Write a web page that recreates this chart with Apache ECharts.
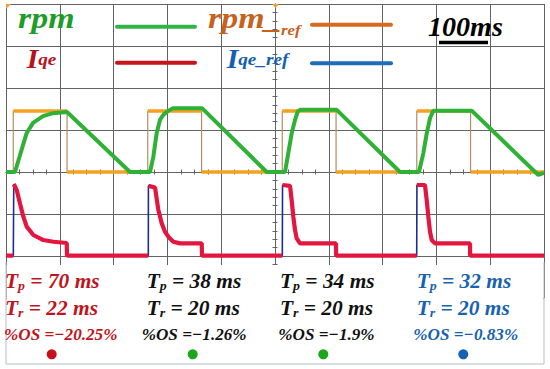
<!DOCTYPE html>
<html><head><meta charset="utf-8">
<script src="https://cdn.jsdelivr.net/npm/echarts@6/dist/echarts.min.js"></script>
<style>html,body{margin:0;padding:0;background:#fff}#c{width:550px;height:369px}</style>
</head><body><div id="c"></div>
<script>
// Time in ms relative to the scope trigger (screen centre), 100 ms per division.
// Values in screen divisions above the centre line.
const refTime  = [-500,-486.5,-486.5,-386.5,-386.5,-236.5,-236.5,-136.5,-136.5,13.5,13.5,113.5,113.5,263.5,263.5,363.5,363.5,500];
const refValue = [0,0,1.45,1.45,0,0,1.45,1.45,0,0,1.45,1.45,0,0,1.45,1.45,0,0];

const rpmTime  = [-500,-483.3,-474,-461.5,-449.8,-431.2,-412.6,-386.6,-269.5,-232.3,-226.2,-219.9,-213.8,-207.6,-198.3,-189,-135.7,-15.4,18.6,24.7,31,37.2,42.2,46.5,114.7,232.3,267.7,275.7,282,288.1,294.2,365.6,489.4,500];
const rpmValue = [0,0,0.40,0.93,1.17,1.33,1.40,1.43,0,0,0.36,0.93,1.24,1.36,1.46,1.52,1.52,0,0,0.45,0.92,1.24,1.44,1.48,1.48,0,0,0.45,0.92,1.28,1.46,1.46,-0.07,-0.02];

const iqeTime  = [-500,-486.4,-485.6,-484.6,-480.1,-474,-467.8,-461.5,-449.2,-430.7,-412,-387.1,-386.6,-235.5,-235.3,-223,-216.9,-210.6,-204.5,-198.3,-189,-176.6,-136.2,-135.7,13.6,14.0,27.9,31,34,37.2,40.3,46.5,113.4,113.6,263.4,263.8,278.8,282,285,288.1,291.3,297.4,362.5,362.7,500];
const iqeValue = [-1.99,-1.99,-0.29,-0.31,-0.43,-0.75,-1.06,-1.30,-1.50,-1.62,-1.66,-1.69,-1.99,-1.99,-0.33,-0.37,-0.90,-1.22,-1.42,-1.54,-1.66,-1.70,-1.70,-1.99,-1.99,-0.31,-0.33,-0.67,-1.06,-1.38,-1.58,-1.70,-1.70,-1.99,-1.99,-0.31,-0.31,-0.67,-1.06,-1.42,-1.62,-1.70,-1.70,-1.99,-1.99];

const iqeRefTime  = iqeTime;
const iqeRefValue = iqeValue;

const legendNames = ['rpm', 'rpm_ref', 'Iqe', 'Iqe_ref'];
const tpValues = ['70', '38', '34', '32'];
const trValues = ['22', '20', '20', '20'];
const osValues = ['\u221220.25', '\u22121.26', '\u22121.9', '\u22120.83'];
const scaleLabel = '100ms';

// ---------- layout / style ----------
const colText = ['#c0141c', '#111111', '#111111', '#1763ae'];
const colDot  = ['#c8101a', '#1ca61c', '#1ca61c', '#1462b3'];
const colX    = [5, 146.7, 280, 416.7];
const colX3   = [4, 141.7, 278.3, 413.3];
const dotX    = [51.7, 192.7, 323.3, 463.3];
const gridColor = '#636363';
const serif = '"Liberation Serif","Times New Roman",serif';

const pairs = (t, v) => t.map((x, i) => [x, v[i]]);
const refData = pairs(refTime, refValue);
const refFlat = [];
for (let i = 0; i < refTime.length - 1; i++) {
  if (refValue[i] === refValue[i + 1] && refTime[i] !== refTime[i + 1]) {
    refFlat.push([refTime[i], refValue[i]], [refTime[i + 1], refValue[i + 1]], [refTime[i + 1], null]);
  }
}
const iqeData = [];
for (let i = 0; i < iqeTime.length; i++) {
  if (i > 0 && iqeValue[i] - iqeValue[i - 1] > 1) iqeData.push([iqeTime[i], null]);
  iqeData.push([iqeTime[i], iqeValue[i]]);
}

function bi(size, color, extra) {
  return Object.assign({fontSize: size, fontFamily: serif, fontStyle: 'italic', fontWeight: 'bold', fill: color, color: color}, extra || {});
}
function rtext(x, y, text, rich, sx) {
  return {type: 'text', x: x, y: y, scaleX: sx || 1, z: 100,
    style: {text: text, rich: rich, align: 'left', textAlign: 'left', verticalAlign: 'middle', textVerticalAlign: 'middle',
      fontFamily: serif, fontStyle: 'italic', fontWeight: 'bold'}};
}
function line(x1, y1, x2, y2, color, w) {
  return {type: 'line', z: 100, shape: {x1, y1, x2, y2}, style: {stroke: color, lineWidth: w, lineCap: 'round'}};
}

const graphics = [
  {type: 'rect', z: 90, shape: {x: 6.5, y: 265, width: 537, height: 99}, style: {fill: '#ffffff'}},
  {type: 'polyline', z: 91, shape: {points: [[6, 262], [6, 364], [544, 364], [544, 262]]}, style: {stroke: '#b3bccb', lineWidth: 1, fill: null}},
  // legend
  rtext(18, 18, '{a|' + legendNames[0] + '}', {a: bi(30, '#1e9c2a', {lineHeight: 34})}, 1.13),
  line(117, 26.7, 195, 26.7, '#33b24a', 4),
  rtext(208, 18, '{a|rpm_}', {a: bi(30, '#c7621d', {lineHeight: 34})}, 1.13),
  rtext(281, 29.5, '{s|ref}', {s: bi(15, '#c7621d', {lineHeight: 18})}, 1.13),
  line(312, 24.7, 391, 24.7, '#d4691f', 4),
  rtext(26.7, 59.1, '{a|I}{s|qe}', {a: bi(27, '#b3141b', {lineHeight: 34}), s: bi(17.5, '#b3141b', {lineHeight: 34})}, 1.1),
  line(117, 62.7, 195, 62.7, '#c8141c', 4),
  rtext(226.7, 59.1, '{a|I}{s|qe_ref}', {a: bi(27, '#1461ad', {lineHeight: 34}), s: bi(17.5, '#1461ad', {lineHeight: 34})}, 1.1),
  line(312, 63.3, 391, 63.3, '#1f6cb8', 4),
  rtext(428, 26.8, '{a|' + scaleLabel + '}', {a: bi(27, '#000000', {lineHeight: 34})}, 1.04),
  {type: 'line', z: 100, shape: {x1: 439, y1: 42.5, x2: 488, y2: 42.5}, style: {stroke: '#000', lineWidth: 3.5}},
  // trigger markers
  {type: 'polygon', z: 100, shape: {points: [[6, 4], [11, 4], [6, 9]]}, style: {fill: '#f0a030'}},
  {type: 'polygon', z: 100, shape: {points: [[272, 4], [279, 4], [275.5, 8]]}, style: {fill: '#f0a030'}}
];
for (let c = 0; c < 4; c++) {
  const col = colText[c];
  const big = bi(20, col, {lineHeight: 24});
  const sub = bi(13, col, {lineHeight: 24, verticalAlign: 'bottom', height: 16});
  graphics.push(rtext(colX[c], 281.5, '{a|T}{s|p}{a| = ' + tpValues[c] + ' ms}', {a: big, s: sub}, 1.07));
  graphics.push(rtext(colX[c], 308.2, '{a|T}{s|r}{a| = ' + trValues[c] + ' ms}', {a: big, s: sub}, 1.07));
  graphics.push(rtext(colX3[c], 334.2, '{a|%OS =' + osValues[c] + '%}', {a: bi(17.5, col, {lineHeight: 22})}, 0.98));
  graphics.push({type: 'circle', z: 100, shape: {cx: dotX[c], cy: 354.3, r: 5}, style: {fill: colDot[c]}});
}

const tick = {show: true, length: 2.5, lineStyle: {color: gridColor, width: 1}};
const xCommon = {type: 'value', min: -500, max: 500, interval: 100,
  axisLine: {show: true, onZero: true, onZeroAxisIndex: 0, lineStyle: {color: gridColor, width: 1}},
  axisTick: tick, minorTick: {show: true, splitNumber: 4, length: 2.5, lineStyle: {color: gridColor, width: 1}},
  axisLabel: {show: false}};
const yCommon = {type: 'value', min: -3, max: 4, interval: 1,
  axisLine: {show: true, onZero: true, onZeroAxisIndex: 0, lineStyle: {color: gridColor, width: 1}},
  axisTick: tick, minorTick: {show: true, splitNumber: 5, length: 2.5, lineStyle: {color: gridColor, width: 1}},
  axisLabel: {show: false}};

const chart = echarts.init(document.getElementById('c'), null, {renderer: 'svg'});
chart.setOption({
  animation: false,
  backgroundColor: '#ffffff',
  grid: {left: 6, right: 6, top: 4, bottom: 71, containLabel: false, outerBoundsMode: 'none'},
  xAxis: [
    Object.assign({}, xCommon, {position: 'bottom', splitLine: {show: true, lineStyle: {color: gridColor, width: 1}}}),
    Object.assign({}, xCommon, {position: 'top', splitLine: {show: false}})
  ],
  yAxis: [
    Object.assign({}, yCommon, {position: 'left', splitLine: {show: true, lineStyle: {color: gridColor, width: 1}}}),
    Object.assign({}, yCommon, {position: 'right', splitLine: {show: false}})
  ],
  series: [
    {name: 'rpm_ref edge', type: 'line', data: refData, symbol: 'none', lineStyle: {color: '#b58b62', width: 1.2}, silent: true},
    {name: legendNames[1], type: 'line', data: refFlat, symbol: 'none', connectNulls: false, lineStyle: {color: '#f4a11f', width: 3.5}},
    {name: legendNames[3], type: 'line', data: pairs(iqeRefTime, iqeRefValue), symbol: 'none', lineStyle: {color: '#1b2f8a', width: 1.6}},
    {name: legendNames[2], type: 'line', data: iqeData, symbol: 'none', connectNulls: false, lineStyle: {color: '#e3163f', width: 4.2}},
    {name: legendNames[0], type: 'line', data: pairs(rpmTime, rpmValue), symbol: 'none', lineStyle: {color: '#2fb136', width: 4}}
  ],
  graphic: graphics
});
</script></body></html>
